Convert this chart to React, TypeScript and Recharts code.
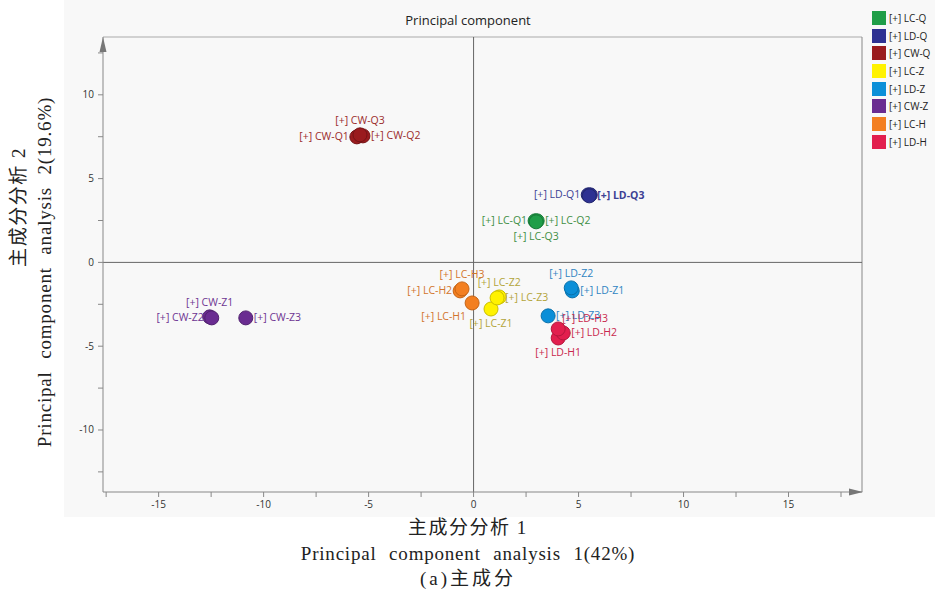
import React from 'react';
import { ScatterChart, Scatter, XAxis, YAxis, ReferenceLine, ReferenceDot } from 'recharts';

// groups, in legend order
const groups = ['LC-Q', 'LD-Q', 'CW-Q', 'LC-Z', 'LD-Z', 'CW-Z', 'LC-H', 'LD-H'];

// PC1 / PC2 scores for replicates 1..3 of each group
const lcQ_pc1 = [2.93, 3.03, 2.98];
const lcQ_pc2 = [2.48, 2.48, 2.42];
const ldQ_pc1 = [5.46, 5.56, 5.51];
const ldQ_pc2 = [4.03, 4.03, 3.97];
const cwQ_pc1 = [-5.56, -5.27, -5.41];
const cwQ_pc2 = [7.49, 7.55, 7.61];
const lcZ_pc1 = [0.83, 1.22, 1.12];
const lcZ_pc2 = [-2.78, -2.06, -2.12];
const ldZ_pc1 = [4.7, 4.65, 3.55];
const ldZ_pc2 = [-1.7, -1.52, -3.19];
const cwZ_pc1 = [-12.57, -12.47, -10.85];
const cwZ_pc2 = [-3.25, -3.31, -3.31];
const lcH_pc1 = [-0.07, -0.64, -0.55];
const lcH_pc2 = [-2.42, -1.7, -1.58];
const ldH_pc1 = [4.03, 4.27, 4.03];
const ldH_pc2 = [-4.51, -4.21, -3.97];

const pc1 = [lcQ_pc1, ldQ_pc1, cwQ_pc1, lcZ_pc1, ldZ_pc1, cwZ_pc1, lcH_pc1, ldH_pc1];
const pc2 = [lcQ_pc2, ldQ_pc2, cwQ_pc2, lcZ_pc2, ldZ_pc2, cwZ_pc2, lcH_pc2, ldH_pc2];

const xTicks = [-17.5, -15, -12.5, -10, -7.5, -5, -2.5, 0, 2.5, 5, 7.5, 10, 12.5, 15, 17.5];
const yTicks = [-12.5, -10, -7.5, -5, -2.5, 0, 2.5, 5, 7.5, 10, 12.5];

const X_MIN = -17.65;
const X_MAX = 18.5;
const Y_MIN = -13.7;
const Y_MAX = 13.45;

const fills = ['#1f9e48', '#2e3192', '#9a1b1e', '#fff200', '#0b8fd8', '#6a2c91', '#f37f21', '#e21f4e'];
const strokes = ['#177a37', '#23276f', '#741316', '#c9be00', '#0870aa', '#51216f', '#c56315', '#b3173d'];
const textColors = ['#3f8f45', '#3c4194', '#9b2b2b', '#b3a43a', '#2f84c2', '#6e3592', '#d2742c', '#c8284d'];

// where each point's label sits
const labelSide: Record<string, string> = {
  'LC-Q1': 'left', 'LC-Q2': 'right', 'LC-Q3': 'bottom',
  'LD-Q1': 'left', 'LD-Q2': 'none', 'LD-Q3': 'rightBold',
  'CW-Q1': 'left', 'CW-Q2': 'right', 'CW-Q3': 'top',
  'LC-Z1': 'bottom', 'LC-Z2': 'top', 'LC-Z3': 'right',
  'LD-Z1': 'right', 'LD-Z2': 'top', 'LD-Z3': 'right',
  'CW-Z1': 'top', 'CW-Z2': 'left', 'CW-Z3': 'right',
  'LC-H1': 'bottomLeft', 'LC-H2': 'left', 'LC-H3': 'top',
  'LD-H1': 'bottom', 'LD-H2': 'right', 'LD-H3': 'topRight',
};

const FONT = "'Open Sans', 'Noto Sans', sans-serif";
const SERIF = "'Liberation Serif', 'DejaVu Serif', 'Noto Sans CJK SC', serif";

const makeShape = (fill: string, stroke: string, color: string) => (props: any) => {
  const { cx, cy, payload } = props;
  const side = labelSide[payload.name] || 'right';
  let tx = cx + 8;
  let ty = cy + 3.5;
  let anchor: any = 'start';
  if (side === 'left') { tx = cx - 8; anchor = 'end'; }
  if (side === 'top') { tx = cx; ty = cy - 11; anchor = 'middle'; }
  if (side === 'bottom') { tx = cx; ty = cy + 18; anchor = 'middle'; }
  if (side === 'bottomLeft') { tx = cx - 6; ty = cy + 17; anchor = 'end'; }
  if (side === 'topRight') { tx = cx + 4; ty = cy - 7; }
  return (
    <g>
      <circle cx={cx} cy={cy} r={7} fill={fill} stroke={stroke} strokeWidth={1} />
      {side !== 'none' && (
        <text x={tx} y={ty} textAnchor={anchor} fontSize={10.5} fontFamily={FONT} fill={color}
          fontWeight={side === 'rightBold' ? 700 : 400}>
          [+] {payload.name}
        </text>
      )}
    </g>
  );
};

const XTick = (props: any) => {
  const { x, y, payload } = props;
  if (payload.value % 5 !== 0) return null;
  return (
    <text x={x} y={y + 9} textAnchor="middle" fontSize={10} fontFamily={FONT} fill="#333">
      {String(payload.value)}
    </text>
  );
};

const YTick = (props: any) => {
  const { x, y, payload } = props;
  if (payload.value % 5 !== 0) return null;
  return (
    <text x={x - 2} y={y + 3.5} textAnchor="end" fontSize={10} fontFamily={FONT} fill="#333">
      {String(payload.value)}
    </text>
  );
};

const UpArrow = (props: any) => {
  const { cx, cy } = props;
  return <path d={`M${cx},${cy} L${cx - 3.5},${cy + 15} L${cx + 3.5},${cy + 15} Z`} fill="#777" />;
};

const RightArrow = (props: any) => {
  const { cx, cy } = props;
  return <path d={`M${cx + 1},${cy} L${cx - 13},${cy - 3.5} L${cx - 13},${cy + 3.5} Z`} fill="#777" />;
};

const LegendBox = () => (
  <div style={{ position: 'absolute', left: 872, top: 9, width: 63, fontFamily: FONT, fontSize: 10, color: '#222' }}>
    {groups.map((g, i) => (
      <div key={g} style={{ display: 'flex', alignItems: 'center', height: 17.7, whiteSpace: 'nowrap' }}>
        <span style={{ width: 14, height: 14, background: fills[i], display: 'inline-block', marginRight: 3, flexShrink: 0 }} />
        <span>[+] {g}</span>
      </div>
    ))}
  </div>
);

export default function App() {
  const series = groups.map((g, i) => ({
    group: g,
    data: pc1[i].map((x, k) => ({ x, y: pc2[i][k], name: `${g}${k + 1}` })),
  }));

  return (
    <div style={{ position: 'absolute', left: 0, top: 0, width: 935, height: 592, background: '#fff', overflow: 'hidden' }}>
      <div style={{ position: 'absolute', left: 64, top: 0, width: 871, height: 517, background: '#f8f8f8' }} />
      <svg width={935} height={592} style={{ position: 'absolute', left: 0, top: 0 }}>
        <text x={468} y={25} textAnchor="middle" fontSize={13} fontFamily={FONT} fill="#222">Principal component</text>
        <text x={468} y={534} textAnchor="middle" fontSize={19} letterSpacing={1.5} fontFamily={SERIF} fill="#222">主成分分析 1</text>
        <text x={468} y={560} textAnchor="middle" fontSize={19} letterSpacing={0.8} wordSpacing={7} fontFamily={SERIF} fill="#222">
          Principal component analysis 1(42%)
        </text>
        <text x={468} y={585} textAnchor="middle" fontSize={19} letterSpacing={3} fontFamily={SERIF} fill="#222">(a)主成分</text>
        <text transform="translate(25,207) rotate(-90)" textAnchor="middle" fontSize={19} letterSpacing={1.5} fontFamily={SERIF} fill="#222">主成分分析 2</text>
        <text transform="translate(51,272) rotate(-90)" textAnchor="middle" fontSize={19} letterSpacing={0.8} wordSpacing={7} fontFamily={SERIF} fill="#222">
          Principal component analysis 2(19.6%)
        </text>
      </svg>
      <div style={{ position: 'absolute', left: 0, top: 0 }}>
        <ScatterChart width={935} height={592} margin={{ top: 37, right: 73, bottom: 70, left: 73 }}>
          <XAxis type="number" dataKey="x" domain={[X_MIN, X_MAX]} ticks={xTicks} allowDataOverflow
            axisLine={{ stroke: '#888' }} tickLine={{ stroke: '#888' }} tickSize={5} height={30} tick={<XTick />} />
          <YAxis type="number" dataKey="y" domain={[Y_MIN, Y_MAX]} ticks={yTicks} allowDataOverflow
            axisLine={{ stroke: '#888' }} tickLine={{ stroke: '#888' }} tickSize={5} width={30} tick={<YTick />} />
          <ReferenceLine y={Y_MAX} stroke="#aaa" ifOverflow="visible" />
          <ReferenceLine x={X_MAX} stroke="#888" ifOverflow="visible" />
          <ReferenceLine x={0} stroke="#666" />
          <ReferenceLine y={0} stroke="#666" />
          <ReferenceDot x={X_MIN} y={Y_MAX} r={0} shape={<UpArrow />} ifOverflow="visible" />
          <ReferenceDot x={X_MAX} y={Y_MIN} r={0} shape={<RightArrow />} ifOverflow="visible" />
          {series.map((s, i) => (
            <Scatter key={s.group} name={`[+] ${s.group}`} data={s.data} fill={fills[i]}
              shape={makeShape(fills[i], strokes[i], textColors[i])} isAnimationActive={false} />
          ))}
        </ScatterChart>
      </div>
      <LegendBox />
    </div>
  );
}
